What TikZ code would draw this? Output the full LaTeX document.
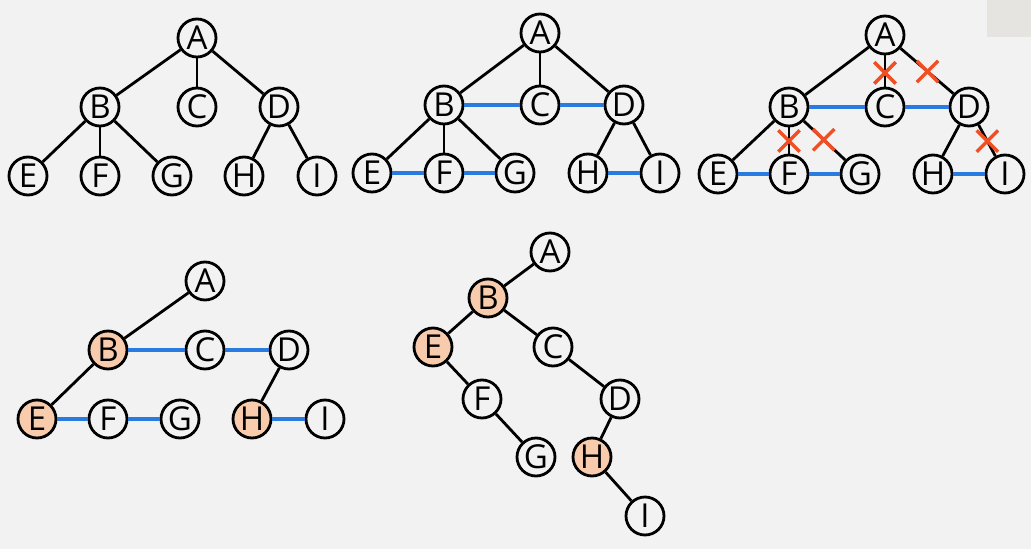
\documentclass[tikz,border=0pt]{standalone}
\usepackage{fontspec}
\usepackage{xcolor}
\usepackage{tikz}
\usetikzlibrary{shapes.misc}
\newfontfamily\vfont{Open Sans}
\definecolor{bgcol}{HTML}{F2F2F2}
\definecolor{patchcol}{HTML}{E6E4E1}
\definecolor{peach}{HTML}{F8CBAD}
\definecolor{linkblue}{HTML}{2A7BE0}
\definecolor{cutred}{HTML}{F04E23}

\begin{document}
\begin{tikzpicture}[x=1pt,y=-1pt,
  vertex/.style={circle,draw,line width=2.8pt,minimum size=38pt,inner sep=0pt,
    fill=bgcol,font=\vfont\fontsize{33}{33}\selectfont},
  done/.style={fill=peach},
  edge/.style={line width=2.8pt},
  thread/.style={line width=3.4pt,draw=linkblue},
  cut/.style={cross out,draw=cutred,line width=3.4pt,minimum size=18pt,inner sep=0pt}]

  \fill[bgcol] (0,0) rectangle (1031,549);
  \fill[patchcol] (987,0) rectangle (1031,37);

  % full tree
  \foreach \n/\x/\y in {A/197/38,B/100/107,C/197/107,D/279/107,E/28/176,
                        F/100/176,G/172/176,H/244/176,I/317/176}
    \node[vertex] (\n1) at (\x,\y) {\n};
  \foreach \a/\b in {A/B,A/C,A/D,B/E,B/F,B/G,D/H,D/I}
    \draw[edge] (\a1) -- (\b1);

  % siblings linked
  \foreach \n/\x/\y in {A/540/33,B/444/105,C/540/105,D/624/105,E/372/173,
                        F/444/173,G/515/173,H/588/173,I/660/173}
    \node[vertex] (\n2) at (\x,\y) {\n};
  \foreach \a/\b in {A/B,A/C,A/D,B/E,B/F,B/G,D/H,D/I}
    \draw[edge] (\a2) -- (\b2);
  \foreach \a/\b in {B/C,C/D,E/F,F/G,H/I}
    \draw[thread] (\a2) -- (\b2);

  % cut all but first child
  \foreach \n/\x/\y in {A/885/35,B/789/107,C/885/107,D/969/107,E/718/174,
                        F/789/174,G/860/174,H/933/174,I/1005/174}
    \node[vertex] (\n3) at (\x,\y) {\n};
  \foreach \a/\b in {A/B,B/E,D/H}
    \draw[edge] (\a3) -- (\b3);
  \draw[edge] (A3) -- node[cut,pos=0.56] (xAC) {} (C3);
  \draw[edge] (A3) -- node[cut,pos=0.51] (xAD) {} (D3);
  \draw[edge] (B3) -- node[cut,pos=0.52] (xBF) {} (F3);
  \draw[edge] (B3) -- node[cut,pos=0.48] (xBG) {} (G3);
  \draw[edge] (D3) -- node[cut,pos=0.52] (xDI) {} (I3);
  \foreach \a/\b in {B/C,C/D,E/F,F/G,H/I}
    \draw[thread] (\a3) -- (\b3);

  % result
  \foreach \n/\x/\y in {A/205/281,C/205/350,D/289/350,F/108/419,G/180/419,I/325/419}
    \node[vertex] (\n4) at (\x,\y) {\n};
  \foreach \n/\x/\y in {B/108/350,E/37/419,H/252/419}
    \node[vertex,done] (\n4) at (\x,\y) {\n};
  \foreach \a/\b in {A/B,B/E,D/H}
    \draw[edge] (\a4) -- (\b4);
  \foreach \a/\b in {B/C,C/D,E/F,F/G,H/I}
    \draw[thread] (\a4) -- (\b4);

  % binary tree
  \foreach \n/\x/\y in {A/550/252,C/553/347,F/482/399,D/620/399,G/536/457,I/645/516}
    \node[vertex] (\n5) at (\x,\y) {\n};
  \foreach \n/\x/\y in {B/488/298,E/433/347,H/592/457}
    \node[vertex,done] (\n5) at (\x,\y) {\n};
  \foreach \a/\b in {A/B,B/E,B/C,E/F,F/G,C/D,D/H,H/I}
    \draw[edge] (\a5) -- (\b5);
\end{tikzpicture}
\end{document}
